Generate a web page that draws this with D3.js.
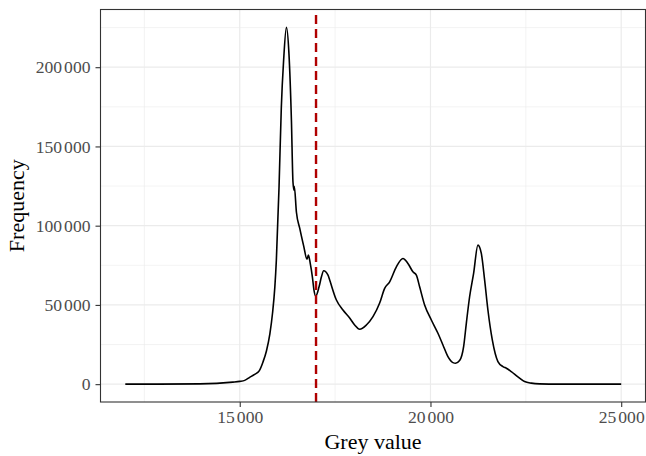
<!DOCTYPE html>
<html>
<head>
<meta charset="utf-8">
<script src="https://cdn.jsdelivr.net/npm/d3@7"></script>
<style>
  body { margin: 0; background: #fff; }
  svg text { font-family: "Liberation Serif", "Times New Roman", serif; }
</style>
</head>
<body>
<div id="chart"></div>
<script>
// grey value histogram
const greyValues = [12000, 13950, 14820, 15000, 15130, 15260, 15390, 15510, 15610, 15700,
  15790, 15860, 15920, 15960, 16030, 16090, 16150, 16224, 16290, 16355, 16396, 16423, 16430,
  16486, 16572, 16677, 16763, 16800, 16847, 16905, 16946, 16991, 17078, 17140, 17201, 17314,
  17358, 17534, 17706, 17882, 18013, 18144, 18320, 18493, 18668, 18799, 18930, 19106, 19278,
  19409, 19540, 19630, 19716, 19847, 20023, 20196, 20327, 20458, 20589, 20659, 20764, 20869,
  20940, 21026, 21131, 21244, 21333, 21420, 21506, 21621, 21768, 21899, 21988, 22119, 22292,
  22467, 22643, 22860, 23384, 25000];
const frequency = [0, 150, 1260, 1760, 2390, 4280, 6170, 8370, 14040, 20960,
  31670, 44890, 61260, 78260, 124220, 174590, 204180, 225150, 208590, 166400, 127370, 122330, 124850,
  108480, 98410, 87070, 78890, 81410, 76370, 67560, 59370, 55590, 61260, 67560, 71520, 68810,
  65670, 53080, 46780, 41740, 37340, 34630, 37340, 42560, 51190, 60440, 64600, 74040, 79330,
  76180, 70890, 68810, 61450, 49930, 40480, 32110, 24740, 17380, 13600, 13220, 14860, 23670,
  38410, 55150, 69890, 87700, 82480, 65670, 46780, 27890, 14230, 11080, 10070, 7930, 4600,
  1640, 630, 190, 50, 0];
const threshold = 17000;
const xTicks = [15000, 20000, 25000];
const xMinor = [12500, 17500, 22500];
const yTicks = [0, 50000, 100000, 150000, 200000];
const yMinor = [25000, 75000, 125000, 175000, 225000];

const W = 646, H = 456;
const panel = {left: 100.5, top: 9.5, right: 645.5, bottom: 402};

const svg = d3.select("#chart").append("svg")
  .attr("width", W).attr("height", H);

const xMin = d3.min(greyValues), xMax = d3.max(greyValues);
const xPad = (xMax - xMin) * 0.05;
const xScale = d3.scaleLinear()
  .domain([xMin - xPad, xMax + xPad])
  .range([panel.left, 646]);

const yMax = d3.max(frequency);
const yScale = d3.scaleLinear()
  .domain([-yMax * 0.05, yMax * 1.05])
  .range([panel.bottom, panel.top]);

// thousands split into tspans with a small gap, like "200 000"
function splitThousands(sel) {
  sel.each(function(d) {
    const parts = d3.format(",")(d).split(",");
    const t = d3.select(this).text("");
    parts.forEach((p, i) => {
      t.append("tspan").attr("dx", i > 0 ? 2 : null).text(p);
    });
  });
}

// grid
const grid = svg.append("g");
grid.selectAll(".xminor").data(xMinor).join("line")
  .attr("x1", d => xScale(d)).attr("x2", d => xScale(d))
  .attr("y1", panel.top).attr("y2", panel.bottom)
  .attr("stroke", "#ebebeb").attr("stroke-width", 0.6);
grid.selectAll(".yminor").data(yMinor).join("line")
  .attr("y1", d => yScale(d)).attr("y2", d => yScale(d))
  .attr("x1", panel.left).attr("x2", panel.right)
  .attr("stroke", "#ebebeb").attr("stroke-width", 0.6);
grid.selectAll(".xmajor").data(xTicks).join("line")
  .attr("x1", d => xScale(d)).attr("x2", d => xScale(d))
  .attr("y1", panel.top).attr("y2", panel.bottom)
  .attr("stroke", "#ebebeb").attr("stroke-width", 1.2);
grid.selectAll(".ymajor").data(yTicks).join("line")
  .attr("y1", d => yScale(d)).attr("y2", d => yScale(d))
  .attr("x1", panel.left).attr("x2", panel.right)
  .attr("stroke", "#ebebeb").attr("stroke-width", 1.2);

// histogram line
const data = greyValues.map((g, i) => ({g: g, f: frequency[i]}));
const line = d3.line()
  .x(d => xScale(d.g))
  .y(d => yScale(d.f))
  .curve(d3.curveMonotoneX);

svg.append("path")
  .datum(data)
  .attr("d", line)
  .attr("fill", "none")
  .attr("stroke", "#000")
  .attr("stroke-width", 1.6)
  .attr("stroke-linejoin", "round");

// threshold line
svg.append("line")
  .attr("x1", xScale(threshold)).attr("x2", xScale(threshold))
  .attr("y1", panel.bottom).attr("y2", panel.top)
  .attr("stroke", "#b00000")
  .attr("stroke-width", 2.4)
  .attr("stroke-dasharray", "9,5");

// panel border
svg.append("rect")
  .attr("x", panel.left).attr("y", panel.top)
  .attr("width", panel.right - panel.left).attr("height", panel.bottom - panel.top)
  .attr("fill", "none").attr("stroke", "#333333").attr("stroke-width", 1.1);

// axes
const xAxis = d3.axisBottom(xScale).tickValues(xTicks)
  .tickSizeInner(5).tickSizeOuter(0).tickPadding(4);
const gx = svg.append("g")
  .attr("transform", `translate(0,${panel.bottom})`)
  .call(xAxis);
gx.select(".domain").remove();
gx.selectAll(".tick line").attr("stroke", "#333333").attr("stroke-width", 1.1);
gx.selectAll(".tick text").attr("fill", "#4d4d4d").style("font-size", "17.6px")
  .call(splitThousands);

const yAxis = d3.axisLeft(yScale).tickValues(yTicks)
  .tickSizeInner(5).tickSizeOuter(0).tickPadding(5);
const gy = svg.append("g")
  .attr("transform", `translate(${panel.left},0)`)
  .call(yAxis);
gy.select(".domain").remove();
gy.selectAll(".tick line").attr("stroke", "#333333").attr("stroke-width", 1.1);
gy.selectAll(".tick text").attr("fill", "#4d4d4d").style("font-size", "17.6px")
  .call(splitThousands);

// titles
svg.append("text")
  .attr("x", (panel.left + panel.right) / 2)
  .attr("y", 449)
  .attr("text-anchor", "middle")
  .style("font-size", "22px")
  .attr("fill", "#000")
  .text("Grey value");

svg.append("text")
  .attr("transform", `translate(24,${(panel.top + panel.bottom) / 2}) rotate(-90)`)
  .attr("text-anchor", "middle")
  .style("font-size", "22px")
  .attr("fill", "#000")
  .text("Frequency");
</script>
</body>
</html>
